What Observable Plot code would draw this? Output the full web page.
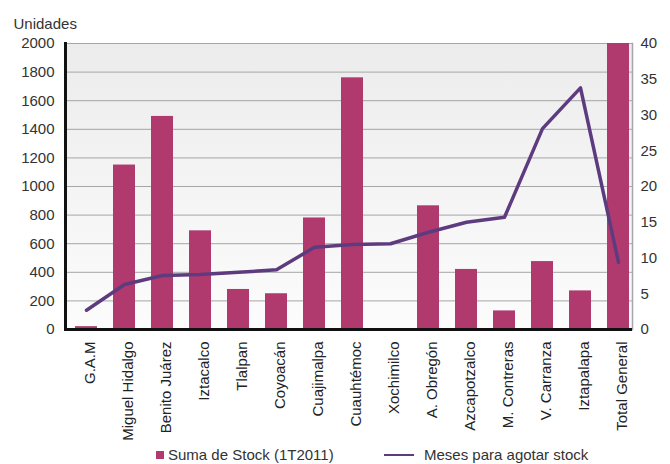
<!DOCTYPE html>
<html><head><meta charset="utf-8">
<script src="https://cdn.jsdelivr.net/npm/d3@7"></script>
<script src="https://cdn.jsdelivr.net/npm/@observablehq/plot@0.6"></script>
<style>
body{margin:0;background:#fff;font-family:"Liberation Sans",Arial,sans-serif;}
#chart{position:relative;width:670px;height:464px;overflow:hidden;}
#chart svg{display:block;}
#legend{position:relative;width:670px;height:24px;font-size:15px;color:#333;}
#legend span{position:absolute;white-space:nowrap;}
</style></head><body><div id="chart"></div>
<script>
const delegaciones = ["G.A.M","Miguel Hidalgo","Benito Juárez","Iztacalco","Tlalpan","Coyoacán","Cuajimalpa","Cuauhtémoc","Xochimilco","A. Obregón","Azcapotzalco","M. Contreras","V. Carranza","Iztapalapa","Total General"];
const stock = [20,1150,1490,690,280,250,780,1760,0,865,420,130,475,270,2000];
const meses = [2.7,6.3,7.55,7.7,8.0,8.35,11.5,11.9,12.0,13.6,15.0,15.7,28.1,33.8,9.4];
const leftTicks = [0,200,400,600,800,1000,1200,1400,1600,1800,2000];
const rightTicks = [0,5,10,15,20,25,30,35,40];
const leftMax = 2000, rightMax = 40;
const k = leftMax / rightMax;

const data = delegaciones.map((d, i) => ({cat: d, stock: stock[i], meses: meses[i]}));

const gradient = () => {
  const defs = d3.create("svg:defs");
  const g = defs.append("linearGradient").attr("id", "bgGrad")
    .attr("x1", 0).attr("y1", 0).attr("x2", 0).attr("y2", 1);
  g.append("stop").attr("offset", "0%").attr("stop-color", "#ececec");
  g.append("stop").attr("offset", "100%").attr("stop-color", "#fcfcfc");
  return defs.node();
};

const plot = Plot.plot({
  width: 670, height: 440,
  marginLeft: 65, marginRight: 38, marginTop: 43, marginBottom: 111,
  style: {fontFamily: '"Liberation Sans", Arial, sans-serif', fontSize: "15px", color: "#333", background: "transparent", overflow: "visible"},
  x: {domain: delegaciones, range: [63.5, 641], paddingInner: 0.42, paddingOuter: 0.21, label: null},
  y: {domain: [0, leftMax], label: null},
  marks: [
    gradient,
    Plot.frame({fill: "url(#bgGrad)", stroke: null}),
    Plot.ruleY(leftTicks.slice(1), {stroke: "#a6a6a6", strokeWidth: 1}),
    Plot.frame({anchor: "right", stroke: "#a6a6a6", strokeWidth: 1.5}),
    Plot.barY(data, {x: "cat", y: "stock", fill: "#b03a6e"}),
    Plot.lineY(data, {x: "cat", y: d => d.meses * k, stroke: "#5e3b7f", strokeWidth: 3.5, strokeLinejoin: "round"}),
    Plot.ruleY([0], {stroke: "#111", strokeWidth: 3}),
    Plot.frame({anchor: "left", stroke: "#111", strokeWidth: 3}),
    Plot.axisY(leftTicks, {anchor: "left", tickSize: 0, tickPadding: 11, tickFormat: d => String(d), label: null, fontSize: 15}),
    Plot.axisY(rightTicks.map(v => v * k), {anchor: "right", tickSize: 0, tickPadding: 8, tickFormat: v => String(v / k), label: null, fontSize: 15}),
    Plot.axisX({tickRotate: -90, tickSize: 0, tickPadding: 12, label: null, fontSize: 15, dx: 4, fill: "#222"}),
    Plot.text(["Unidades"], {frameAnchor: "top-left", dx: -52, dy: -25, textAnchor: "start", fontSize: 15, fill: "#333"})
  ]
});

const chart = document.getElementById("chart");
chart.appendChild(plot);

const legend = document.createElement("div");
legend.id = "legend";
const items = [
  {label: "Suma de Stock (1T2011)", type: "square", color: "#b03a6e", x: 156, tx: 168},
  {label: "Meses para agotar stock", type: "line", color: "#5e3b7f", x: 384, tx: 424}
];
for (const it of items) {
  const m = document.createElement("span");
  if (it.type === "square") {
    m.style.cssText = `left:${it.x}px;top:11px;width:8px;height:8px;background:${it.color};`;
  } else {
    m.style.cssText = `left:${it.x}px;top:14px;width:30px;height:2px;background:${it.color};`;
  }
  legend.appendChild(m);
  const t = document.createElement("span");
  t.textContent = it.label;
  t.style.cssText = `left:${it.tx}px;top:6px;line-height:18px;`;
  legend.appendChild(t);
}
chart.appendChild(legend);
</script>
</body></html>
